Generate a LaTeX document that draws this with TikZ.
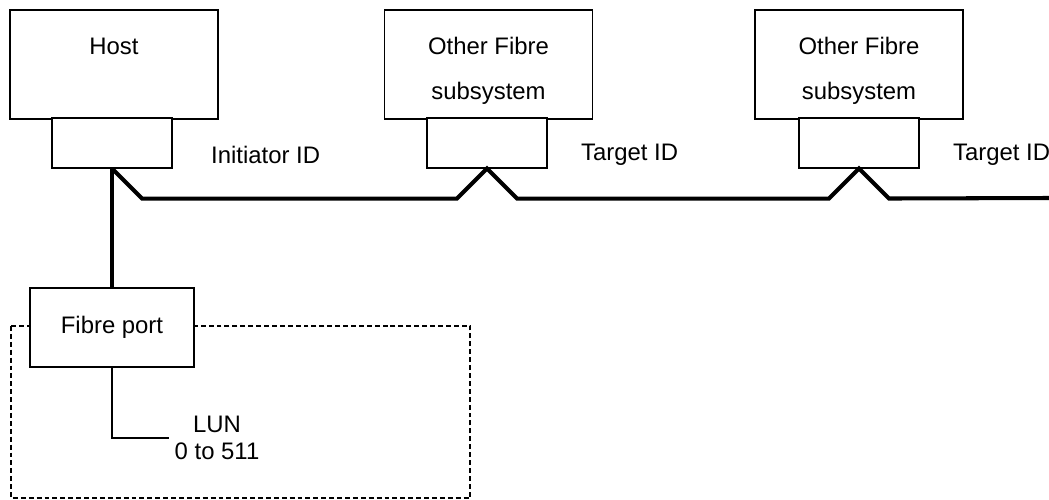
\documentclass[tikz,border=0pt]{standalone}
\usepackage{fontspec}
\setmainfont{Liberation Sans}
\begin{document}
\begin{tikzpicture}[
        x = 0.02cm, y = -0.02cm,
        unit/.style = {draw, line width=0.6pt, fill=white, inner sep=0pt},
        box/.style = {unit, minimum width=4.16cm, minimum height=2.18cm},
        port/.style = {unit, minimum width=2.4cm, minimum height=1cm},
        txt/.style = {font=\fontsize{13.6}{15.5}\selectfont, align=center},
        bus/.style = {line width=2.3pt},
        grp/.style = {line width=0.75pt, dash pattern=on 2.8pt off 1.7pt}
    ]
    \path[use as bounding box, clip] (0,0) rectangle (1049,500);

    \draw[grp] (11,326) rectangle (470,498);

    \node[box] (host) at (114,64.5) {};
    \node[port] (hostport) at (112,143) {};
    \node[txt] (hostlbl) at (114,46) {Host};
    \node[txt, anchor=west] (initid) at (205,155) {Initiator ID};

    \foreach \n/\x/\px in {1/488.5/487, 2/859/859} {
        \node[box] (sub\n) at (\x,64.5) {};
        \node[port] (sub\n port) at (\px,143) {};
        \node[txt] (sub\n lbl) at (\x,71) {Other Fibre\\[10pt]subsystem};
    }
    \node[txt, anchor=west] (tgt1) at (575,155) {Target ID};
    \node[txt, anchor=west] (tgt2) at (947,155) {Target ID};

    \node[unit, txt, minimum width=3.28cm, minimum height=1.58cm] (fport) at (112,327.5) {Fibre port};
    \node[txt] (lun) at (217,438) {LUN\\0 to 511};
    \coordinate (busend) at (1049,198);

    \draw[bus] (hostport.south) -- (fport.north);
    \draw[bus] (hostport.south) -- ++(30,30)
        -- ([shift={(-30,30)}]sub1port.south) -- (sub1port.south) -- ++(30,30)
        -- ([shift={(-30,30)}]sub2port.south) -- (sub2port.south) -- ++(30,30)
        -- (busend);
    \draw[line width=0.6pt] (fport.south) |- (lun.west);
\end{tikzpicture}
\end{document}
